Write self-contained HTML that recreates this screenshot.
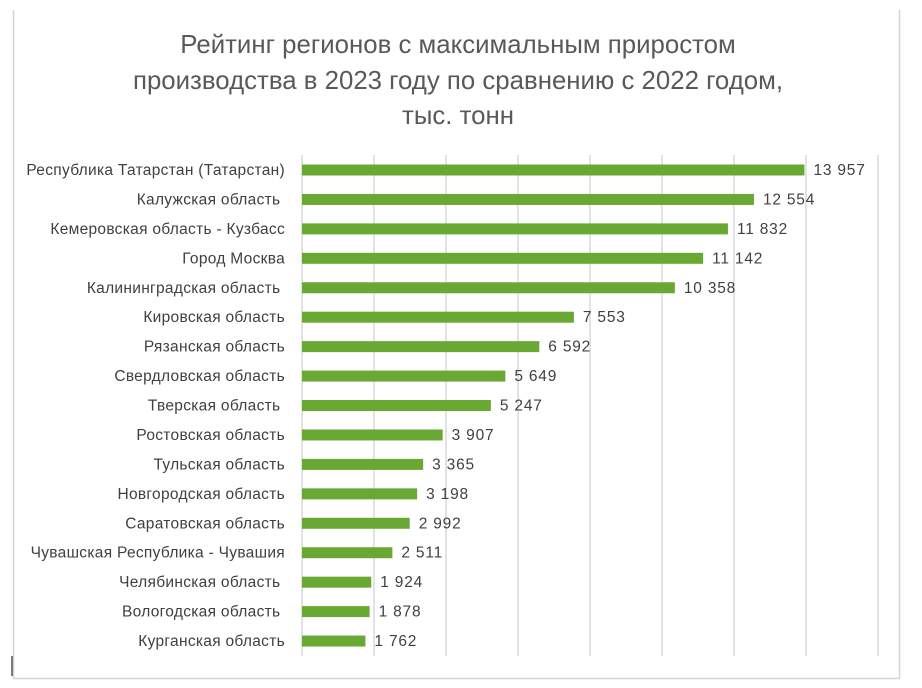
<!DOCTYPE html>
<html><head><meta charset="utf-8"><style>body{margin:0;background:#fff}svg{display:block}</style></head><body>
<svg width="922" height="688" xmlns="http://www.w3.org/2000/svg" font-family="Liberation Sans, DejaVu Sans, sans-serif">
<rect x="0" y="0" width="922" height="688" fill="#fff"/>
<path d="M13.5 10 V678.5 H899.5 V10" fill="none" stroke="#d4d4d4" stroke-width="1.5"/>
<line x1="12" y1="656" x2="12" y2="676" stroke="#000" stroke-width="1"/>
<g fill="#595959" font-size="25.8" text-anchor="middle">
<text x="458" y="53">Рейтинг регионов с максимальным приростом</text>
<text x="458" y="89">производства в 2023 году по сравнению с 2022 годом,</text>
<text x="458" y="124">тыс. тонн</text>
</g>
<g stroke="#d9d9d9" stroke-width="1.5">
<line x1="302" y1="155" x2="302" y2="656"/><line x1="374" y1="155" x2="374" y2="656"/><line x1="446" y1="155" x2="446" y2="656"/><line x1="518" y1="155" x2="518" y2="656"/><line x1="590" y1="155" x2="590" y2="656"/><line x1="662" y1="155" x2="662" y2="656"/><line x1="734" y1="155" x2="734" y2="656"/><line x1="806" y1="155" x2="806" y2="656"/><line x1="878" y1="155" x2="878" y2="656"/>
</g>
<g id="bars" fill="#6aa834"></g>
<g id="lbl" font-size="15.5" fill="#404040"></g>
<script>
var d=[["Республика Татарстан (Татарстан)",13957,"13 957"],["Калужская область ",12554,"12 554"],["Кемеровская область - Кузбасс",11832,"11 832"],["Город Москва",11142,"11 142"],["Калининградская область ",10358,"10 358"],["Кировская область",7553,"7 553"],["Рязанская область",6592,"6 592"],["Свердловская область",5649,"5 649"],["Тверская область ",5247,"5 247"],["Ростовская область",3907,"3 907"],["Тульская область",3365,"3 365"],["Новгородская область",3198,"3 198"],["Саратовская область",2992,"2 992"],["Чувашская Республика - Чувашия",2511,"2 511"],["Челябинская область ",1924,"1 924"],["Вологодская область ",1878,"1 878"],["Курганская область",1762,"1 762"]];
var ns="http://www.w3.org/2000/svg",b=document.getElementById("bars"),l=document.getElementById("lbl");
d.forEach(function(r,i){var cy=170+i*29.44,w=r[1]*0.036;
var e=document.createElementNS(ns,"rect");e.setAttribute("x",302);e.setAttribute("y",cy-5.5);e.setAttribute("width",w);e.setAttribute("height",11);b.appendChild(e);
var t=document.createElementNS(ns,"text");t.setAttribute("x",285);t.setAttribute("y",cy+5);t.setAttribute("text-anchor","end");t.setAttribute("letter-spacing","0.3");t.style.whiteSpace="pre";t.textContent=r[0];l.appendChild(t);
t=document.createElementNS(ns,"text");t.setAttribute("x",302+w+9);t.setAttribute("y",cy+5);t.setAttribute("letter-spacing","0.8");t.textContent=r[2];l.appendChild(t);});
</script>
</svg>
</body></html>
